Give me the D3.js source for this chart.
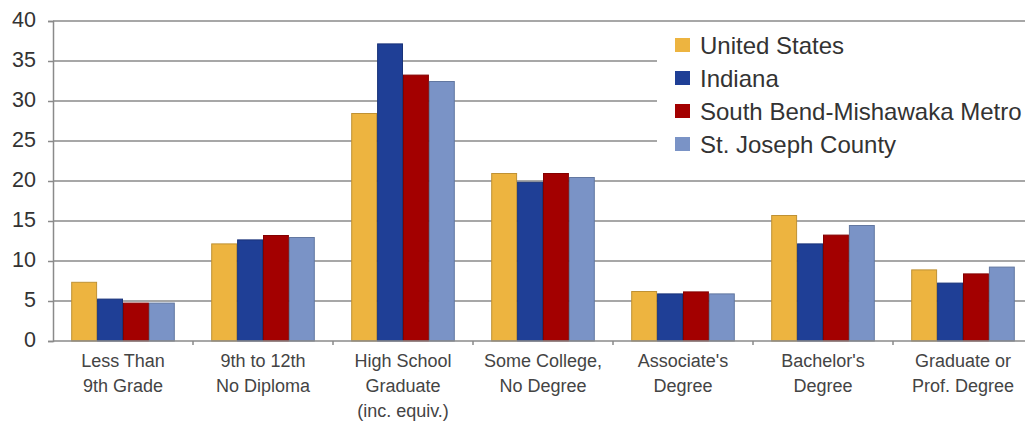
<!DOCTYPE html>
<html><head><meta charset="utf-8">
<script src="https://cdn.jsdelivr.net/npm/d3@7"></script>
<style>body{margin:0;background:#fff}svg{display:block}</style>
</head><body>
<svg id="c" width="1025" height="427"></svg>
<script>
const categories = [
  ["Less Than","9th Grade"],
  ["9th to 12th","No Diploma"],
  ["High School","Graduate","(inc. equiv.)"],
  ["Some College,","No Degree"],
  ["Associate's","Degree"],
  ["Bachelor's","Degree"],
  ["Graduate or","Prof. Degree"]
];
const seriesNames = ["United States","Indiana","South Bend-Mishawaka Metro","St. Joseph County"];
const seriesColors = ["#EDB440","#1F3F96","#A30000","#7A93C6"];
const unitedStates = [7.4, 12.2, 28.5, 21.0, 6.25, 15.75, 8.95];
const indiana      = [5.3, 12.7, 37.2, 19.9, 5.95, 12.2, 7.3];
const southBend    = [4.8, 13.25, 33.3, 21.0, 6.2, 13.3, 8.45];
const stJoseph     = [4.8, 13.0, 32.5, 20.5, 5.95, 14.5, 9.3];
const yTicks = [0,5,10,15,20,25,30,35,40];

(function(){
const values = [unitedStates, indiana, southBend, stJoseph];
const svg = d3.select("#c");
const mLeft = 53, mRight = 1033, mTop = 21, mBottom = 341;
const x0 = d3.scaleBand().domain(d3.range(categories.length)).range([mLeft, mRight]).paddingInner(0.26).paddingOuter(0.13);
const x1 = d3.scaleBand().domain(d3.range(seriesNames.length)).range([0, x0.bandwidth()]);
const y = d3.scaleLinear().domain([0,40]).range([mBottom, mTop]);
const font = "Liberation Sans, Arial, sans-serif";

// gridlines
svg.append("g").selectAll("line").data(yTicks.filter(d=>d>0)).join("line")
  .attr("x1", mLeft).attr("x2", 1025).attr("y1", d=>y(d)).attr("y2", d=>y(d))
  .attr("stroke", "#8a8a8a").attr("stroke-width", 1.6);

// bars
const g = svg.append("g").selectAll("g").data(categories).join("g")
  .attr("transform", (d,i)=>`translate(${x0(i)},0)`);
g.selectAll("rect").data((d,i)=>values.map((s,j)=>({j, v:s[i]}))).join("rect")
  .attr("x", d=>x1(d.j)+0.5).attr("width", x1.bandwidth()-1)
  .attr("y", d=>y(d.v)+0.5).attr("height", d=>y(0)-y(d.v)-0.5)
  .attr("fill", d=>seriesColors[d.j])
  .attr("stroke", d=>d3.color(seriesColors[d.j]).darker(0.6))
  .attr("stroke-width", 1);

// y axis
const ya = svg.append("g").attr("transform", `translate(${mLeft},0)`)
  .call(d3.axisLeft(y).tickValues(yTicks).tickSize(5).tickPadding(12));
ya.select(".domain").attr("stroke", "#8a8a8a").attr("stroke-width", 1.5);
ya.selectAll(".tick line").attr("stroke", "#8a8a8a").attr("stroke-width", 1.5);
ya.selectAll("text").attr("font-family", font).attr("font-size", 21.5).attr("fill", "#333").attr("dy", "0.25em");

// x axis
const xa = svg.append("g").attr("transform", `translate(0,${mBottom})`);
xa.append("line").attr("x1", mLeft).attr("x2", 1025).attr("stroke", "#8a8a8a").attr("stroke-width", 1.5);
const bounds = d3.range(1, categories.length).map(i => x0(i) - x0.step()*x0.paddingInner()/2);
xa.selectAll("line.tk").data(bounds).join("line").attr("class","tk")
  .attr("x1", d=>d).attr("x2", d=>d).attr("y1", 0).attr("y2", 4)
  .attr("stroke", "#8a8a8a").attr("stroke-width", 1.5);
const lbl = xa.selectAll("text").data(categories).join("text")
  .attr("font-family", font).attr("font-size", 18).attr("fill", "#444")
  .attr("text-anchor", "middle");
lbl.each(function(d,i){
  const t = d3.select(this);
  d.forEach((line,k)=>{
    t.append("tspan").attr("x", x0(i)+x0.bandwidth()/2).attr("y", 26 + k*25).text(line);
  });
});

// legend
const lg = svg.append("g");
lg.append("rect").attr("x", 657).attr("y", 28).attr("width", 368).attr("height", 140).attr("fill", "#fff");
const li = lg.selectAll("g").data(seriesNames).join("g")
  .attr("transform", (d,i)=>`translate(675,${45 + i*33})`);
li.append("rect").attr("x", 0).attr("y", -7).attr("width", 15).attr("height", 14)
  .attr("fill", (d,i)=>seriesColors[i]);
li.append("text").attr("x", 25).attr("y", 8.5).text(d=>d)
  .attr("font-family", font).attr("font-size", 24).attr("fill", "#333");
})();
</script>
</body></html>
